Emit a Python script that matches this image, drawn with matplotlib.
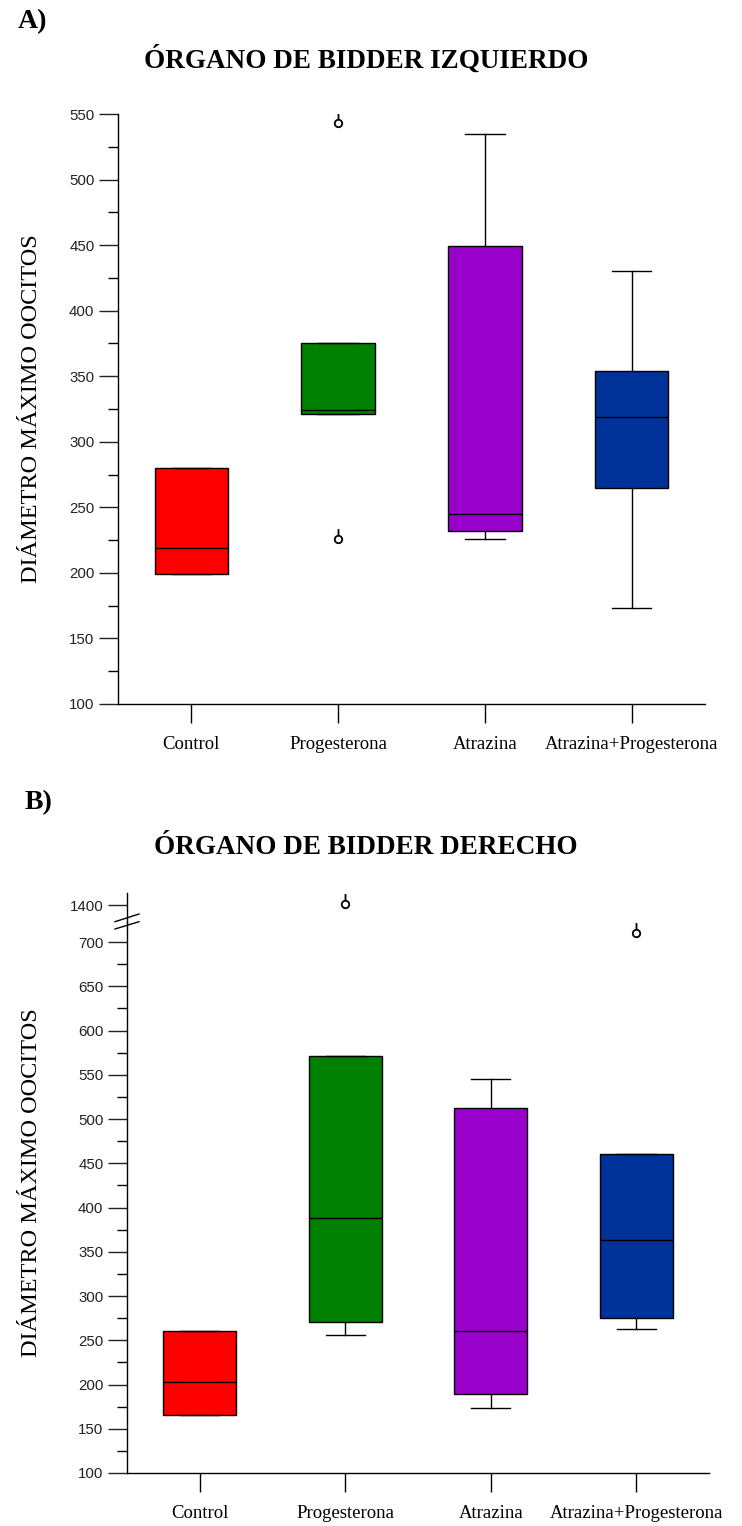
import matplotlib
matplotlib.use("Agg")
import matplotlib.pyplot as plt
from matplotlib.path import Path
from matplotlib.ticker import MultipleLocator, FixedLocator
from matplotlib.lines import Line2D
import numpy as np

groups = ["Control", "Progesterona", "Atrazina", "Atrazina+Progesterona"]
colors = ["#FF0000", "#008000", "#9900CC", "#003399"]

# Left Bidder's organ: box-plot statistics per group
left_q1 = [199, 321, 232, 265]
left_med = [219, 324, 245, 319]
left_q3 = [280, 375, 449, 354]
left_lo = [199, 321, 226, 173]
left_hi = [280, 375, 535, 430]
left_fliers = [[], [543, 226], [], []]

# Right Bidder's organ
right_q1 = [166, 271, 189, 275]
right_med = [203, 388, 261, 363]
right_q3 = [261, 571, 512, 461]
right_lo = [166, 256, 174, 263]
right_hi = [261, 571, 545, 461]
right_fliers = [[], [1401], [], [710]]

W, H = 742, 1526
SERIF = "Liberation Serif"
SANS = "Liberation Sans"

# outlier marker: open circle with a short stem on top
theta = np.linspace(0, 2 * np.pi, 41)
circ = np.column_stack([np.sin(theta), np.cos(theta)])
verts = np.vstack([circ, [[0, 1], [0, 2.8]]])
codes = [Path.MOVETO] + [Path.LINETO] * (len(circ) - 1) + [Path.MOVETO, Path.LINETO]
stem_circle = Path(verts, codes)


def stats(q1, med, q3, lo, hi, fl):
    return [dict(q1=a, med=b, q3=c, whislo=d, whishi=e, fliers=f)
            for a, b, c, d, e, f in zip(q1, med, q3, lo, hi, fl)]


def draw_boxes(ax, st):
    bp = ax.bxp(st, positions=range(1, 5), widths=0.5, capwidths=0.27,
                patch_artist=True, showfliers=True,
                boxprops=dict(edgecolor="black", linewidth=1.0),
                medianprops=dict(color="black", linewidth=1.0),
                whiskerprops=dict(color="black", linewidth=1.0),
                capprops=dict(color="black", linewidth=1.0),
                flierprops=dict(marker=stem_circle, markersize=15,
                                markerfacecolor="white", markeredgecolor="black",
                                markeredgewidth=1.3, linestyle="none"))
    for patch, c in zip(bp["boxes"], colors):
        patch.set_facecolor(c)
    return bp


def style(ax, xticks=True):
    for s in ("top", "right"):
        ax.spines[s].set_visible(False)
    ax.spines["left"].set_linewidth(1.0)
    ax.spines["bottom"].set_linewidth(1.0)
    ax.tick_params(axis="y", which="major", length=14, width=1.0, direction="out",
                   labelsize=10.8, pad=3, colors="#222222")
    ax.tick_params(axis="y", which="minor", length=7, width=1.0, direction="out")
    for lab in ax.get_yticklabels():
        lab.set_fontfamily(SANS)
    ax.set_xlim(0.5, 4.5)
    if xticks:
        ax.set_xticks(range(1, 5))
        ax.set_xticklabels(groups, fontfamily=SERIF, fontsize=13.5)
        ax.tick_params(axis="x", length=14, width=1.0, direction="out", pad=9)
    else:
        ax.tick_params(axis="x", bottom=False, labelbottom=False)


def rect(l, t, r, b):
    return [l / W, 1 - b / H, (r - l) / W, (b - t) / H]


fig = plt.figure(figsize=(W / 100, H / 100), dpi=100)

# ---------- A) left organ ----------
axA = fig.add_axes(rect(118, 114, 705, 704))
draw_boxes(axA, stats(left_q1, left_med, left_q3, left_lo, left_hi, left_fliers))
axA.set_ylim(100, 550)
axA.yaxis.set_major_locator(MultipleLocator(50))
axA.yaxis.set_minor_locator(MultipleLocator(25))
style(axA)
axA.set_ylabel("DIÁMETRO MÁXIMO OOCITOS", fontfamily=SERIF, fontsize=17.5)
axA.yaxis.set_label_coords((32 - 118) / 587, 0.5)
axA.yaxis.label.set_verticalalignment("center")

fig.text(18 / W, 1 - 22 / H, "A)", fontfamily=SERIF, fontweight="bold", fontsize=20,
         ha="left", va="center")
fig.text(366 / W, 1 - 60 / H, "ÓRGANO DE BIDDER IZQUIERDO", fontfamily=SERIF,
         fontweight="bold", fontsize=19.5, ha="center", va="center")

# ---------- B) right organ (broken y axis) ----------
st_right = stats(right_q1, right_med, right_q3, right_lo, right_hi, right_fliers)
axB = fig.add_axes(rect(127, 922, 709, 1473))
draw_boxes(axB, st_right)
axB.set_ylim(100, 722.6)
axB.yaxis.set_major_locator(FixedLocator(np.arange(100, 701, 50)))
axB.yaxis.set_minor_locator(FixedLocator(np.arange(125, 701, 50)))
style(axB)

axBt = fig.add_axes(rect(127, 893, 709, 922))
draw_boxes(axBt, st_right)
axBt.set_ylim(1380.8, 1413.6)
axBt.yaxis.set_major_locator(FixedLocator([1400]))
axBt.yaxis.set_minor_locator(FixedLocator([]))
style(axBt, xticks=False)
axBt.spines["bottom"].set_visible(False)
axBt.patch.set_alpha(0)

# break marks on the y axis
for y0, y1 in ((921.7, 914.0), (929.0, 921.7)):
    fig.add_artist(Line2D([115 / W, 139 / W], [1 - y0 / H, 1 - y1 / H],
                          color="black", linewidth=1.0))

fig.text(32 / W, 1 - 1183 / H, "DIÁMETRO MÁXIMO OOCITOS", fontfamily=SERIF,
         fontsize=17.5, rotation=90, ha="center", va="center")
fig.text(25 / W, 1 - 803 / H, "B)", fontfamily=SERIF, fontweight="bold", fontsize=20,
         ha="left", va="center")
fig.text(366 / W, 1 - 847 / H, "ÓRGANO DE BIDDER DERECHO", fontfamily=SERIF,
         fontweight="bold", fontsize=19.5, ha="center", va="center")

fig.savefig("out.png", dpi=100)
